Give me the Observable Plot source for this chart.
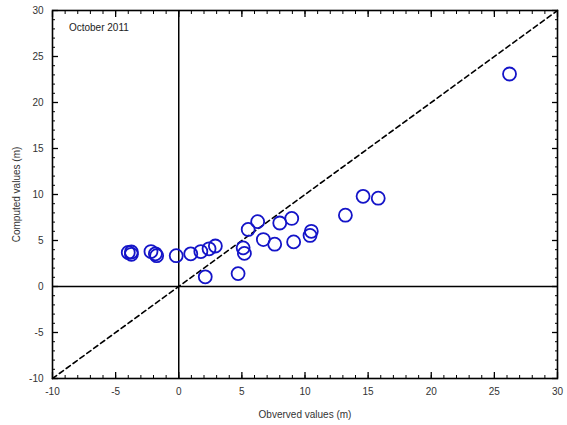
<!DOCTYPE html>
<html>
<head>
<meta charset="utf-8">
<script src="https://cdn.jsdelivr.net/npm/d3@7"></script>
<script src="https://cdn.jsdelivr.net/npm/@observablehq/plot@0.6"></script>
<style>
  html, body { margin: 0; padding: 0; background: #fff; }
  #chart svg { display: block; }
</style>
</head>
<body>
<div id="chart"></div>
<script>
const observed = [-4.0, -3.75, -3.75, -2.2, -1.85, -1.75, -0.2, 0.95, 1.75, 2.4, 2.9, 2.1, 4.7, 5.1, 5.2, 5.5, 6.25, 6.7, 7.6, 8.0, 8.95, 9.1, 10.5, 10.4, 13.2, 14.6, 15.8, 26.2];
const computed = [3.7, 3.75, 3.5, 3.8, 3.55, 3.35, 3.35, 3.55, 3.8, 4.1, 4.4, 1.05, 1.4, 4.2, 3.6, 6.2, 7.05, 5.1, 4.6, 6.9, 7.4, 4.85, 6.0, 5.55, 7.75, 9.8, 9.6, 23.1];
const majorTicks = [-10, -5, 0, 5, 10, 15, 20, 25, 30];
const minorTicks = d3.range(-10, 31, 1);
const identityLine = [-10, 30];
const annotation = ["October 2011"];
const xLabel = "Obverved values (m)";
const yLabel = "Computed values (m)";

const points = observed.map((x, i) => ({x, y: computed[i]}));
const font = "Liberation Sans, Arial, sans-serif";

const chart = Plot.plot({
  width: 567,
  height: 425,
  marginLeft: 52,
  marginRight: 10,
  marginTop: 10,
  marginBottom: 47,
  style: {fontFamily: font, fontSize: "10px", color: "#333", background: "#fff"},
  x: {domain: [-10, 30]},
  y: {domain: [-10, 30]},
  marks: [
    Plot.axisX({anchor: "bottom", ticks: minorTicks, tickSize: 3, dy: -3, text: null, label: null, stroke: "#000"}),
    Plot.axisX({anchor: "top", ticks: minorTicks, tickSize: 3, dy: 3, text: null, label: null, stroke: "#000"}),
    Plot.axisY({anchor: "left", ticks: minorTicks, tickSize: 3, dx: 3, text: null, label: null, stroke: "#000"}),
    Plot.axisY({anchor: "right", ticks: minorTicks, tickSize: 3, dx: -3, text: null, label: null, stroke: "#000"}),
    Plot.axisX({anchor: "bottom", ticks: majorTicks, tickSize: 6, dy: -6, text: null, label: null, stroke: "#000", strokeWidth: 1.3}),
    Plot.axisX({anchor: "top", ticks: majorTicks, tickSize: 6, dy: 6, text: null, label: null, stroke: "#000", strokeWidth: 1.3}),
    Plot.axisY({anchor: "left", ticks: majorTicks, tickSize: 6, dx: 6, text: null, label: null, stroke: "#000", strokeWidth: 1.3}),
    Plot.axisY({anchor: "right", ticks: majorTicks, tickSize: 6, dx: -6, text: null, label: null, stroke: "#000", strokeWidth: 1.3}),
    Plot.axisX({anchor: "bottom", ticks: majorTicks, tickSize: 0, tickPadding: 9, tickFormat: d => String(d),
      label: xLabel, labelAnchor: "center", labelArrow: "none", labelOffset: 39, fill: "#333"}),
    Plot.axisY({anchor: "left", ticks: majorTicks, tickSize: 0, tickPadding: 9, tickFormat: d => String(d),
      label: yLabel, labelAnchor: "center", labelArrow: "none", labelOffset: 40, fill: "#333"}),
    Plot.ruleX([0], {stroke: "#000", strokeWidth: 1.5}),
    Plot.ruleY([0], {stroke: "#000", strokeWidth: 1.5}),
    Plot.line(identityLine.map(v => ({x: v, y: v})), {x: "x", y: "y", stroke: "#000", strokeWidth: 1.6, strokeDasharray: "5,3.5"}),
    Plot.dot(points, {x: "x", y: "y", r: 6.5, stroke: "#1414c8", strokeWidth: 1.8, fill: "none"}),
    Plot.text(annotation, {x: -8.7, y: 28.15, text: d => d, textAnchor: "start", fill: "#222", fontSize: 10}),
    Plot.frame({stroke: "#000", strokeWidth: 1.6})
  ]
});
document.getElementById("chart").appendChild(chart);
</script>
</body>
</html>
